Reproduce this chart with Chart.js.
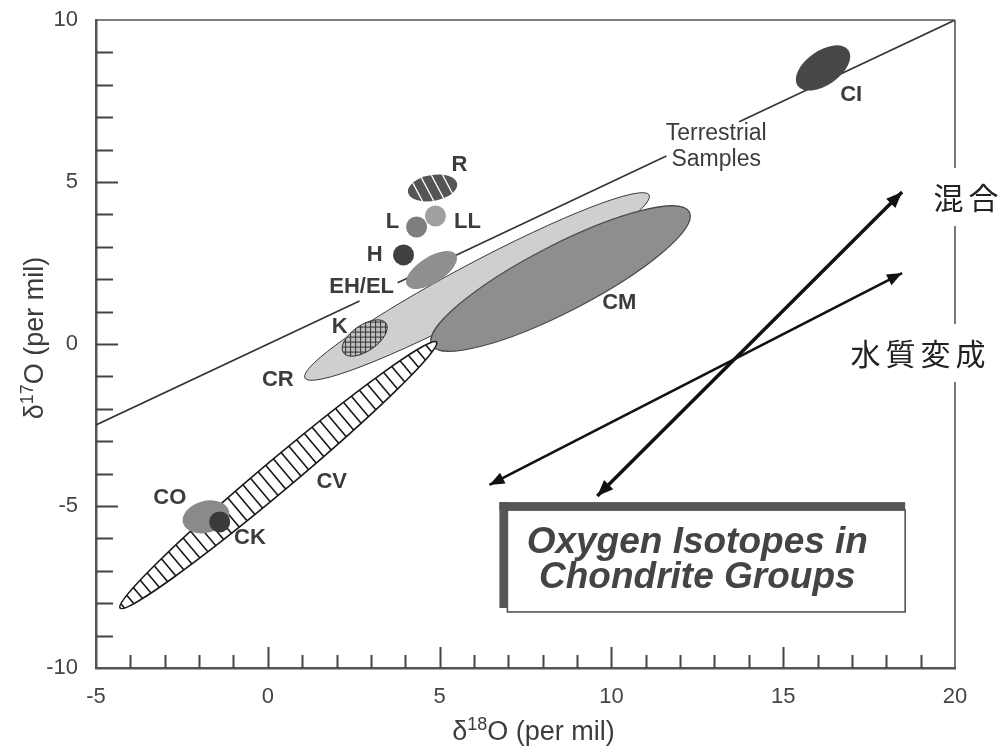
<!DOCTYPE html>
<html>
<head>
<meta charset="utf-8">
<title>Oxygen Isotopes in Chondrite Groups</title>
<script src="https://cdn.jsdelivr.net/npm/chart.js@4/dist/chart.umd.min.js"></script>
<style>
  html, body { margin: 0; padding: 0; background: #fff; }
  #wrap { width: 1001px; height: 748px; }
</style>
</head>
<body>
<div id="wrap"><canvas id="isoChart" width="1001" height="748"></canvas></div>
<script>
// axis ranges
const xMin = -5, xMax = 20;
const yMin = -10, yMax = 10;

// terrestrial fractionation line (null = break under a label)
const terrX = [-5, 2.67, 2.9, 3.78, 11.6, 12.5, 13.72, 20];
const terrY = [-2.5, 1.33, null, 1.89, 5.8, null, 6.86, 10];

// chondrite group fields: ends of the long axis + width/length ratio
const groupNames = ['CR', 'CM', 'CV', 'K', 'CI', 'R', 'EH/EL', 'CO'];
const groupX1 = [1.08, 4.77, -4.30, 2.20, 15.42, 4.08, 4.05, -2.47];
const groupY1 = [-1.05, -0.03, -8.15, -0.27, 7.97, 4.68, 1.81, -5.52];
const groupX2 = [11.10, 12.27, 4.91, 3.44, 16.90, 5.51, 5.48, -1.13];
const groupY2 = [4.60, 4.07, 0.06, 0.64, 9.07, 4.95, 2.76, -5.15];
const groupRatio = [0.12, 0.23, 0.075, 0.5, 0.55, 0.52, 0.45, 0.67];

// small groups shown as dots
const dotNames = ['L', 'LL', 'H', 'CK'];
const dotX = [4.33, 4.88, 3.95, -1.40];
const dotY = [3.61, 3.95, 2.75, -5.49];

// process arrows (mixing / aqueous alteration)
const mixX = [9.59, 18.46];
const mixY = [-4.69, 4.69];
const altX = [6.45, 18.46];
const altY = [-4.35, 2.19];

const FONT = "'Liberation Sans', Arial, Helvetica, sans-serif";
const JP_FONT = "'Noto Sans CJK JP', 'Noto Sans CJK SC', sans-serif";
const INK = '#3c3c3c';

const groupStyle = {
  'CR': { fill: '#cfcfcf', stroke: '#3a3a3a', lw: 1 },
  'CM': { fill: '#8e8e8e', stroke: '#4a4a4a', lw: 1.2 },
  'CV': { fill: '#ffffff', stroke: '#1a1a1a', lw: 1.6,
          hatch: { color: '#1a1a1a', width: 1.6, gap: 10, angles: [90], relative: true } },
  'K': { fill: '#bdbdbd', stroke: '#333', lw: 1,
         hatch: { color: '#333', width: 1, gap: 5, angles: [0, 90], relative: false } },
  'CI': { fill: '#474747' },
  'R': { fill: '#555555',
         hatch: { color: '#ffffff', width: 1.3, gap: 10, angles: [62], relative: false } },
  'EH/EL': { fill: '#8f8f8f' },
  'CO': { fill: '#8a8a8a' }
};
const dotColors = ['#7e7e7e', '#a0a0a0', '#404040', '#3a3a3a'];

// where the text annotations sit (data units)
const labelSpots = {
  'R': [5.58, 5.52], 'L': [3.63, 3.77], 'LL': [5.81, 3.77], 'H': [3.11, 2.75],
  'EH/EL': [2.73, 1.76], 'K': [2.09, 0.52], 'CR': [0.29, -1.11], 'CM': [10.23, 1.27],
  'CV': [1.86, -4.26], 'CO': [-2.85, -4.75], 'CK': [-0.52, -5.99], 'CI': [16.98, 7.69]
};
const terrLabel = { x: 13.05, y1: 6.48, y2: 5.68 };
const titleBox = { left: 6.74, right: 18.55, top: -4.88, bottom: -8.27, cx: 12.5, base1: -6.45, base2: -7.53 };
const jpLabels = [
  { text: '混合', x: 20.32, y: 4.51 },
  { text: '水質変成', x: 18.92, y: -0.31 }
];

const px = (chart, v) => chart.scales.x.getPixelForValue(v);
const py = (chart, v) => chart.scales.y.getPixelForValue(v);

function drawGroup(ctx, chart, i) {
  const st = groupStyle[groupNames[i]];
  const x1 = px(chart, groupX1[i]), y1 = py(chart, groupY1[i]);
  const x2 = px(chart, groupX2[i]), y2 = py(chart, groupY2[i]);
  const cx = (x1 + x2) / 2, cy = (y1 + y2) / 2;
  const a = Math.hypot(x2 - x1, y2 - y1) / 2;
  const b = a * groupRatio[i];
  const ang = Math.atan2(y2 - y1, x2 - x1);
  const path = () => { ctx.beginPath(); ctx.ellipse(cx, cy, a, b, ang, 0, Math.PI * 2); };

  ctx.save();
  path();
  ctx.fillStyle = st.fill;
  ctx.fill();
  if (st.hatch) {
    const h = st.hatch;
    ctx.save();
    path();
    ctx.clip();
    ctx.strokeStyle = h.color;
    ctx.lineWidth = h.width;
    h.angles.forEach(deg => {
      ctx.save();
      ctx.translate(cx, cy);
      ctx.rotate((h.relative ? ang : 0) + deg * Math.PI / 180);
      ctx.beginPath();
      for (let t = -a - h.gap; t <= a + h.gap; t += h.gap) {
        ctx.moveTo(-a - 5, t);
        ctx.lineTo(a + 5, t);
      }
      ctx.stroke();
      ctx.restore();
    });
    ctx.restore();
  }
  if (st.stroke) {
    path();
    ctx.strokeStyle = st.stroke;
    ctx.lineWidth = st.lw;
    ctx.stroke();
  }
  ctx.restore();
}

function arrowHead(ctx, tip, from, len, half) {
  const ang = Math.atan2(tip.y - from.y, tip.x - from.x);
  const c = Math.cos(ang), s = Math.sin(ang);
  ctx.beginPath();
  ctx.moveTo(tip.x, tip.y);
  ctx.lineTo(tip.x - len * c + half * s, tip.y - len * s - half * c);
  ctx.lineTo(tip.x - len * c - half * s, tip.y - len * s + half * c);
  ctx.closePath();
  ctx.fill();
}

// draw "δ" + superscript + rest, centred on 0 along the baseline
function deltaTitle(ctx, sup) {
  const big = '27px ' + FONT, small = '18px ' + FONT;
  ctx.font = big;
  const w1 = ctx.measureText('δ').width;
  const w3 = ctx.measureText('O (per mil)').width;
  ctx.font = small;
  const w2 = ctx.measureText(sup).width;
  let x = -(w1 + w2 + w3) / 2;
  ctx.textAlign = 'left';
  ctx.textBaseline = 'alphabetic';
  ctx.font = big; ctx.fillText('δ', x, 0); x += w1;
  ctx.font = small; ctx.fillText(sup, x, -10); x += w2;
  ctx.font = big; ctx.fillText('O (per mil)', x, 0);
}

const decorPlugin = {
  id: 'decor',
  afterDatasetDraw(chart, args) {
    if (args.index === 0) {
      const ctx = chart.ctx;
      ctx.save();
      const a = chart.chartArea;
      ctx.beginPath();
      ctx.rect(a.left, a.top, a.right - a.left, a.bottom - a.top);
      ctx.clip();
      groupNames.forEach((n, i) => drawGroup(ctx, chart, i));
      ctx.restore();
    }
  },
  afterDatasetsDraw(chart) {
    const ctx = chart.ctx;
    ctx.save();
    ctx.fillStyle = '#111';
    [[1, 16, 6.5], [2, 15, 6]].forEach(([idx, len, half]) => {
      const pts = chart.getDatasetMeta(idx).data;
      arrowHead(ctx, pts[1], pts[0], len, half);
      arrowHead(ctx, pts[0], pts[1], len, half);
    });
    ctx.restore();
  },
  afterDraw(chart) {
    const ctx = chart.ctx;
    const a = chart.chartArea;
    const xs = chart.scales.x, ys = chart.scales.y;
    ctx.save();

    // inward tick marks
    ctx.strokeStyle = '#444';
    ctx.lineWidth = 2;
    ctx.beginPath();
    xs.ticks.forEach(t => {
      if (t.value <= xMin || t.value >= xMax) return;
      const x = Math.round(xs.getPixelForValue(t.value)) + 0.5;
      const len = t.value % 5 === 0 ? 21 : 13;
      ctx.moveTo(x, a.bottom);
      ctx.lineTo(x, a.bottom - len);
    });
    ys.ticks.forEach(t => {
      if (t.value <= yMin || t.value >= yMax) return;
      const y = Math.round(ys.getPixelForValue(t.value)) + 0.5;
      const len = t.value % 5 === 0 ? 22 : 17;
      ctx.moveTo(a.left, y);
      ctx.lineTo(a.left + len, y);
    });
    ctx.stroke();

    // top frame and right frame broken by the Japanese labels
    ctx.strokeStyle = '#555';
    ctx.lineWidth = 1.6;
    ctx.beginPath();
    ctx.moveTo(a.left, a.top);
    ctx.lineTo(a.right, a.top);
    let yStart = a.top;
    jpLabels.map(l => py(chart, l.y)).sort((p, q) => p - q).forEach(cy => {
      ctx.moveTo(a.right, yStart);
      ctx.lineTo(a.right, cy - 30);
      yStart = cy + 28;
    });
    ctx.moveTo(a.right, yStart);
    ctx.lineTo(a.right, a.bottom);
    ctx.stroke();

    // group labels
    ctx.fillStyle = INK;
    ctx.textAlign = 'center';
    ctx.textBaseline = 'middle';
    ctx.font = 'bold 22px ' + FONT;
    Object.keys(labelSpots).forEach(k => {
      ctx.fillText(k, px(chart, labelSpots[k][0]), py(chart, labelSpots[k][1]));
    });
    ctx.font = '23px ' + FONT;
    ctx.fillText('Terrestrial', px(chart, terrLabel.x), py(chart, terrLabel.y1));
    ctx.fillText('Samples', px(chart, terrLabel.x), py(chart, terrLabel.y2));

    // title box
    const bl = px(chart, titleBox.left), br = px(chart, titleBox.right);
    const bt = py(chart, titleBox.top), bb = py(chart, titleBox.bottom);
    ctx.fillStyle = '#fff';
    ctx.fillRect(bl, bt, br - bl, bb - bt);
    ctx.fillStyle = '#555';
    ctx.fillRect(bl, bt, br - bl, 8);
    ctx.fillRect(bl, bt, 8, bb - bt - 4);
    ctx.strokeStyle = '#555';
    ctx.lineWidth = 1.6;
    ctx.strokeRect(bl + 8, bt + 8, br - bl - 8, bb - bt - 8);
    ctx.fillStyle = '#444';
    ctx.font = 'italic bold 37px ' + FONT;
    ctx.textBaseline = 'alphabetic';
    ctx.fillText('Oxygen Isotopes in', px(chart, titleBox.cx), py(chart, titleBox.base1));
    ctx.fillText('Chondrite Groups', px(chart, titleBox.cx), py(chart, titleBox.base2));

    // Japanese process labels
    ctx.fillStyle = '#222';
    ctx.font = '30px ' + JP_FONT;
    ctx.textBaseline = 'middle';
    const step = 35;
    jpLabels.forEach(l => {
      const chars = Array.from(l.text);
      const cx = px(chart, l.x), cy = py(chart, l.y);
      chars.forEach((ch, i) => {
        ctx.fillText(ch, cx + (i - (chars.length - 1) / 2) * step, cy);
      });
    });

    // axis titles
    ctx.fillStyle = INK;
    ctx.save();
    ctx.translate((a.left + a.right) / 2 + 8, chart.height - 8);
    deltaTitle(ctx, '18');
    ctx.restore();
    ctx.save();
    ctx.translate(43, (a.top + a.bottom) / 2 - 6);
    ctx.rotate(-Math.PI / 2);
    deltaTitle(ctx, '17');
    ctx.restore();

    ctx.restore();
  }
};

const tickFont = { family: FONT, size: 22 };

new Chart(document.getElementById('isoChart'), {
  type: 'scatter',
  data: {
    datasets: [
      {
        label: 'Terrestrial Samples',
        data: terrX.map((x, i) => ({ x, y: terrY[i] })),
        showLine: true,
        spanGaps: false,
        borderColor: '#333',
        borderWidth: 1.6,
        pointRadius: 0,
        order: 4
      },
      {
        label: '混合',
        data: mixX.map((x, i) => ({ x, y: mixY[i] })),
        showLine: true,
        borderColor: '#111',
        borderWidth: 3.5,
        pointRadius: 0,
        order: 3
      },
      {
        label: '水質変成',
        data: altX.map((x, i) => ({ x, y: altY[i] })),
        showLine: true,
        borderColor: '#111',
        borderWidth: 2.6,
        pointRadius: 0,
        order: 3
      },
      {
        label: 'groups',
        data: dotX.map((x, i) => ({ x, y: dotY[i] })),
        pointRadius: 10.5,
        pointBackgroundColor: dotColors,
        pointBorderWidth: 0,
        order: 1
      }
    ]
  },
  options: {
    responsive: false,
    animation: false,
    devicePixelRatio: 1,
    layout: { padding: { top: 20, right: 46, left: 0, bottom: 0 } },
    plugins: {
      legend: { display: false },
      tooltip: { enabled: false }
    },
    scales: {
      x: {
        type: 'linear',
        min: xMin,
        max: xMax,
        grid: { display: false, drawTicks: false },
        border: { display: true, color: '#555', width: 2.5 },
        ticks: {
          stepSize: 1,
          autoSkip: false,
          maxRotation: 0,
          padding: 16,
          color: '#444',
          font: tickFont,
          callback: v => (v % 5 === 0 ? String(v) : '')
        },
        afterFit: s => { s.height = 80; s.paddingLeft = 0; s.paddingRight = 0; }
      },
      y: {
        type: 'linear',
        min: yMin,
        max: yMax,
        grid: { display: false, drawTicks: false },
        border: { display: true, color: '#555', width: 2.5 },
        ticks: {
          stepSize: 1,
          autoSkip: false,
          padding: 18,
          color: '#444',
          font: tickFont,
          callback: v => (v % 5 === 0 ? String(v) : '')
        },
        afterFit: s => { s.width = 96; s.paddingTop = 0; s.paddingBottom = 0; }
      }
    }
  },
  plugins: [decorPlugin]
});
</script>
</body>
</html>
